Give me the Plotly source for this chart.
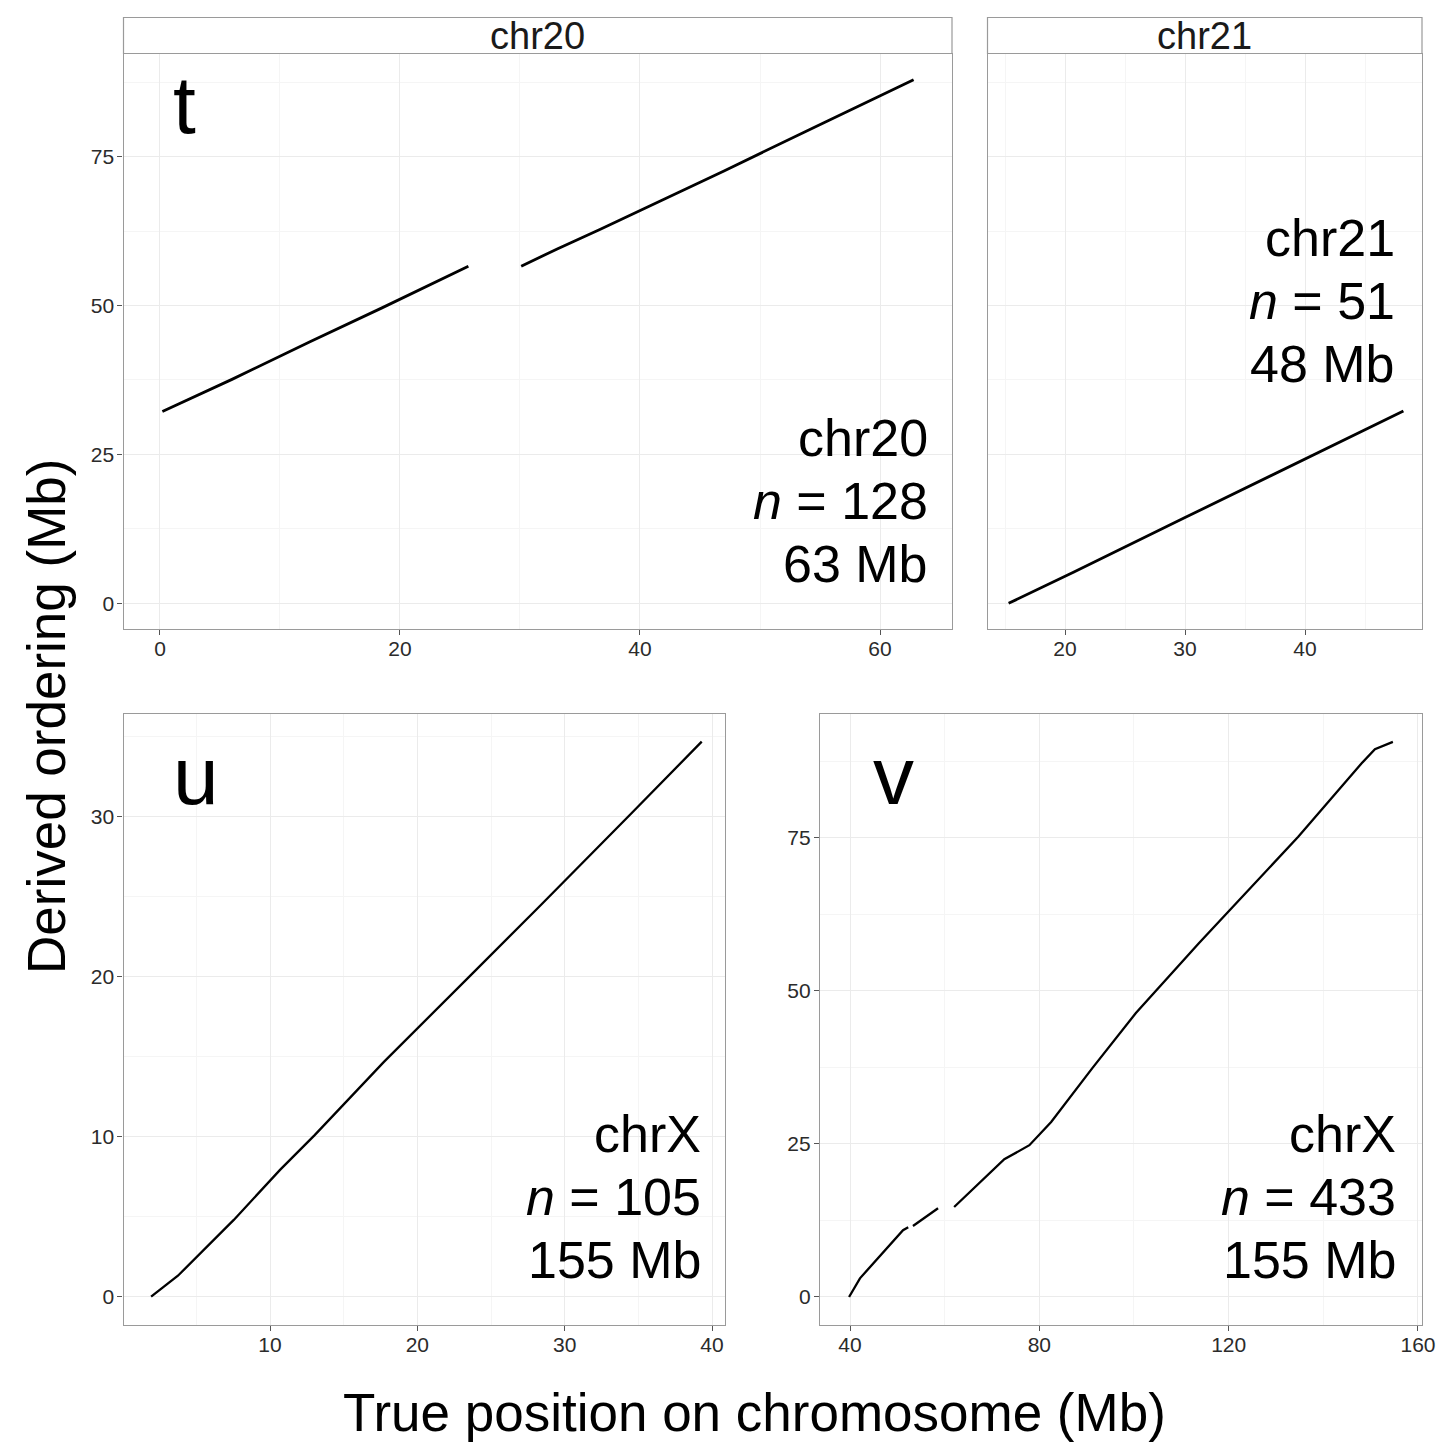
import plotly.graph_objects as go

W, H = 1440, 1443
FONT = "Liberation Sans, Arial, sans-serif"

# ---- data: true position (Mb) vs derived ordering (Mb) ----
chr20_true = [0.2, 6.0, 12.5, 18.5, 25.7, None, 30.1, 33.1, 36.7, 40.0, 47.0, 54.5, 58.0, 62.8]
chr20_derived = [32.2, 37.6, 43.9, 49.6, 56.6, None, 56.6, 59.5, 62.8, 65.9, 72.6, 79.9, 83.3, 87.9]

chr21_true = [15.3, 20.7, 30.0, 37.3, 48.2]
chr21_derived = [0.0, 5.2, 14.4, 21.6, 32.3]

chrXu_true = [1.93, 3.75, 7.54, 10.68, 13.03, 17.73, 23.73, 28.4, 34.4, 39.3]
chrXu_derived = [0.0, 1.31, 4.8, 7.93, 10.1, 14.68, 20.2, 24.5, 30.1, 34.7]

chrXv_true = [39.8, 42.1, 51.2, 52.3, None, 53.3, 58.6, None, 62.0, 72.6, 77.9, 82.5,
              91.2, 100.4, 113.7, 134.7, 148.1, 150.9, 154.7]
chrXv_derived = [0.0, 3.05, 10.9, 11.4, None, 11.6, 14.5, None, 14.7, 22.5, 24.8, 28.6,
                 37.4, 46.4, 57.8, 75.2, 87.2, 89.5, 90.7]

panel_letters = ["t", "u", "v"]
strip_labels = ["chr20", "chr21"]
info_lines = {
    "chr20": ["chr20", "<i>n</i> = 128", "63 Mb"],
    "chr21": ["chr21", "<i>n</i> = 51", "48 Mb"],
    "u": ["chrX", "<i>n</i> = 105", "155 Mb"],
    "v": ["chrX", "<i>n</i> = 433", "155 Mb"],
}


def px(x):
    return x / W


def py(y):
    return 1 - y / H


fig = go.Figure()

# panel layout (pixel boxes) and axis settings
panels = [
    dict(key="chr20", x=chr20_true, y=chr20_derived, box=(123.5, 952, 53.5, 629),
         xr=(-3.04, 66.0), yr=(-4.31, 92.31), xd=20, yd=25, lw=2.8, ylabels=True),
    dict(key="chr21", x=chr21_true, y=chr21_derived, box=(987.5, 1422, 53.5, 629),
         xr=(13.54, 49.75), yr=(-4.31, 92.31), xd=10, yd=25, lw=2.8, ylabels=False),
    dict(key="u", x=chrXu_true, y=chrXu_derived, box=(123.5, 725, 713.5, 1325),
         xr=(0.056, 40.88), yr=(-1.77, 36.46), xd=10, yd=10, lw=2.3, ylabels=True),
    dict(key="v", x=chrXv_true, y=chrXv_derived, box=(820, 1422, 713.5, 1325),
         xr=(33.66, 160.85), yr=(-4.58, 95.34), xd=40, yd=25, lw=2.3, ylabels=True),
]

border = "#9a9a9a"
layout_axes = {}
for i, p in enumerate(panels, start=1):
    sfx = "" if i == 1 else str(i)
    x0, x1, y0, y1 = p["box"]
    fig.add_trace(go.Scatter(
        x=p["x"], y=p["y"], mode="lines",
        line=dict(color="black", width=p["lw"]),
        connectgaps=False, hoverinfo="skip",
        xaxis="x" + sfx, yaxis="y" + sfx,
    ))
    common = dict(
        showline=True, mirror=True, linecolor=border, linewidth=1.2,
        ticks="outside", ticklen=5, tickwidth=1, tickcolor="#555",
        tickfont=dict(family=FONT, size=21, color="#2b2b2b"),
        showgrid=True, gridcolor="#ebebeb", gridwidth=1.2, zeroline=False,
        tickmode="linear", tick0=0, fixedrange=True, automargin=False,
    )
    layout_axes["xaxis" + sfx] = dict(
        common, domain=[px(x0), px(x1)], range=list(p["xr"]), dtick=p["xd"],
        anchor="y" + sfx, ticklabelstandoff=-4,
        minor=dict(showgrid=True, gridcolor="#f5f5f5", gridwidth=1, dtick=p["xd"] / 2),
    )
    yax = dict(
        common, domain=[py(y1), py(y0)], range=list(p["yr"]), dtick=p["yd"],
        anchor="x" + sfx, ticklabelstandoff=-1,
        minor=dict(showgrid=True, gridcolor="#f5f5f5", gridwidth=1, dtick=p["yd"] / 2),
    )
    if not p["ylabels"]:
        yax.update(showticklabels=False, ticks="")
    layout_axes["yaxis" + sfx] = yax

fig.update_layout(**layout_axes)

annotations = []
shapes = []

# facet strips on the top row
for p, label in zip(panels[:2], strip_labels):
    x0, x1, y0, _ = p["box"]
    shapes.append(dict(type="rect", xref="paper", yref="paper",
                       x0=px(x0), x1=px(x1), y0=py(y0), y1=py(17.5),
                       line=dict(color=border, width=1.2), fillcolor="white", layer="above"))
    annotations.append(dict(text=label, xref="paper", yref="paper",
                            x=px((x0 + x1) / 2), y=py(35.5), xanchor="center", yanchor="middle",
                            showarrow=False, font=dict(family=FONT, size=38, color="#1a1a1a")))

# panel letters
for letter, (cx, cy) in zip(panel_letters, [(184, 104), (196, 776), (893, 775)]):
    annotations.append(dict(text=letter, xref="paper", yref="paper", x=px(cx), y=py(cy),
                            xanchor="center", yanchor="middle", showarrow=False,
                            font=dict(family=FONT, size=82, color="black")))

# summary text in each panel, right aligned
info_pos = {"chr20": (930, 501), "chr21": (1397, 301), "u": (703, 1197), "v": (1398, 1197)}
pitch = 63
for key, lines in info_lines.items():
    rx, cy = info_pos[key]
    for j, txt in enumerate(lines):
        annotations.append(dict(text=txt, xref="paper", yref="paper",
                                x=px(rx), y=py(cy + (j - 1) * pitch),
                                xanchor="right", yanchor="middle", showarrow=False,
                                font=dict(family=FONT, size=52, color="black")))

# axis titles
annotations.append(dict(text="True position on chromosome (Mb)", xref="paper", yref="paper",
                        x=px(754), y=py(1412), xanchor="center", yanchor="middle",
                        showarrow=False, font=dict(family=FONT, size=53, color="black")))
annotations.append(dict(text="Derived ordering (Mb)", xref="paper", yref="paper",
                        x=px(46), y=py(717), xanchor="center", yanchor="middle", textangle=-90,
                        showarrow=False, font=dict(family=FONT, size=53, color="black")))

fig.update_layout(
    width=W, height=H, autosize=False,
    margin=dict(l=0, r=0, t=0, b=0, pad=0, autoexpand=False),
    paper_bgcolor="white", plot_bgcolor="white", showlegend=False,
    annotations=annotations, shapes=shapes,
)

fig.write_html("out.html", config={"responsive": False})
